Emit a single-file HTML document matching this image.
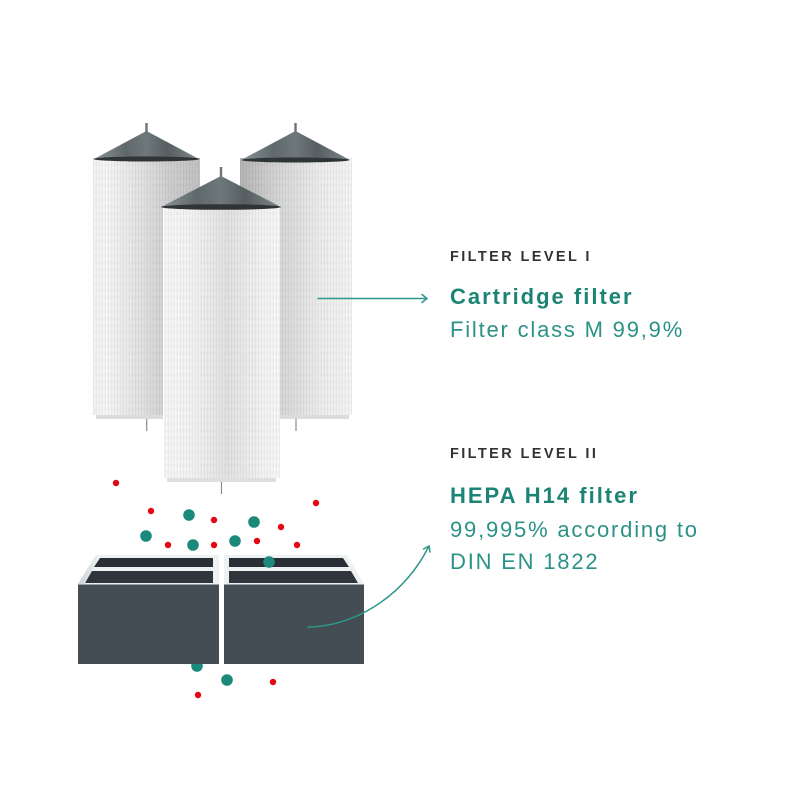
<!DOCTYPE html>
<html><head><meta charset="utf-8"><style>
html,body{margin:0;padding:0;background:#fff;}
svg{display:block;}
</style></head><body>
<svg width="800" height="800" viewBox="0 0 800 800" xmlns="http://www.w3.org/2000/svg">
<defs>
  <linearGradient id="gL" x1="0" x2="1" y1="0" y2="0">
    <stop offset="0" stop-color="#f2f2f2"/>
    <stop offset="0.12" stop-color="#f6f6f6"/>
    <stop offset="0.45" stop-color="#e2e2e2"/>
    <stop offset="0.7" stop-color="#cfcfcf"/>
    <stop offset="1" stop-color="#c2c2c2"/>
  </linearGradient>
  <linearGradient id="gR" x1="0" x2="1" y1="0" y2="0">
    <stop offset="0" stop-color="#b4b4b4"/>
    <stop offset="0.3" stop-color="#d2d2d2"/>
    <stop offset="0.7" stop-color="#ececec"/>
    <stop offset="1" stop-color="#f4f4f4"/>
  </linearGradient>
  <linearGradient id="gF" x1="0" x2="1" y1="0" y2="0">
    <stop offset="0" stop-color="#f7f7f7"/>
    <stop offset="0.25" stop-color="#f3f3f3"/>
    <stop offset="0.55" stop-color="#e2e2e2"/>
    <stop offset="0.85" stop-color="#f2f2f2"/>
    <stop offset="1" stop-color="#f8f8f8"/>
  </linearGradient>
  <linearGradient id="gCone" x1="0" x2="1" y1="0" y2="0">
    <stop offset="0" stop-color="#8a9496"/>
    <stop offset="0.3" stop-color="#5f686b"/>
    <stop offset="0.5" stop-color="#6e777a"/>
    <stop offset="0.7" stop-color="#565e61"/>
    <stop offset="1" stop-color="#7d878a"/>
  </linearGradient>
  <pattern id="tex" width="3" height="7" patternUnits="userSpaceOnUse">
    <rect x="0" y="0" width="1" height="7" fill="#000" opacity="0.05"/>
    <rect x="2" y="2" width="1" height="3" fill="#000" opacity="0.04"/>
  </pattern>
  <linearGradient id="gWall" x1="0" x2="1" y1="0" y2="0">
    <stop offset="0" stop-color="#c9d2d4"/>
    <stop offset="1" stop-color="#eef1f1"/>
  </linearGradient>
</defs>

<!-- Back-left cylinder -->
<rect x="93" y="158" width="107" height="257" fill="url(#gL)"/>
<rect x="93" y="158" width="107" height="257" fill="url(#tex)"/>
<rect x="96" y="415" width="101" height="4" fill="#dcdcdc"/>
<line x1="146.7" y1="419" x2="146.7" y2="431" stroke="#8a8a8a" stroke-width="1.2"/>
<polygon points="146.5,131 94,159 199,159" fill="url(#gCone)"/>
<ellipse cx="146.5" cy="159" rx="53" ry="2.5" fill="#2f3436"/>
<rect x="145.3" y="123" width="2.4" height="10" fill="#6d7476"/>

<!-- Back-right cylinder -->
<rect x="240" y="158" width="112" height="257" fill="url(#gR)"/>
<rect x="240" y="158" width="112" height="257" fill="url(#tex)"/>
<rect x="243" y="415" width="106" height="4" fill="#dcdcdc"/>
<line x1="296" y1="419" x2="296" y2="431" stroke="#8a8a8a" stroke-width="1.2"/>
<polygon points="295.5,131 241,160 350,160" fill="url(#gCone)"/>
<ellipse cx="295.5" cy="160" rx="54" ry="2.5" fill="#2f3436"/>
<rect x="294.3" y="123" width="2.4" height="10" fill="#6d7476"/>

<!-- Front cylinder -->
<rect x="163" y="205" width="117" height="273" fill="url(#gF)"/>
<rect x="163" y="205" width="117" height="273" fill="url(#tex)"/>
<line x1="163.5" y1="205" x2="163.5" y2="478" stroke="#ffffff" stroke-width="1"/>
<rect x="167" y="478" width="109" height="4" fill="#dedede"/>
<line x1="221.5" y1="482" x2="221.5" y2="494" stroke="#8a8a8a" stroke-width="1.2"/>
<polygon points="221,176 161,207 281,207" fill="url(#gCone)"/>
<ellipse cx="221" cy="207" rx="60" ry="2.8" fill="#2f3436"/>
<rect x="219.8" y="167" width="2.4" height="10" fill="#6d7476"/>

<!-- particles above -->
<g fill="#e30613">
  <circle cx="116" cy="483" r="3.2"/>
  <circle cx="151" cy="511" r="3.2"/>
  <circle cx="214" cy="520" r="3.2"/>
  <circle cx="316" cy="503" r="3.2"/>
  <circle cx="281" cy="527" r="3.2"/>
  <circle cx="168" cy="545" r="3.2"/>
  <circle cx="214" cy="545" r="3.2"/>
  <circle cx="257" cy="541" r="3.2"/>
  <circle cx="297" cy="545" r="3.2"/>
  <circle cx="273" cy="682" r="3.2"/>
  <circle cx="198" cy="695" r="3.2"/>
</g>
<g fill="#1b8a7a">
  <circle cx="189" cy="515" r="5.8"/>
  <circle cx="146" cy="536" r="5.8"/>
  <circle cx="193" cy="545" r="5.8"/>
  <circle cx="235" cy="541" r="5.8"/>
  <circle cx="254" cy="522" r="5.8"/>
  <circle cx="197" cy="666" r="5.8"/>
  <circle cx="227" cy="680" r="5.8"/>
</g>

<!-- HEPA boxes -->
<!-- left box -->
<polygon points="96,555 219,555 219,584 78,584" fill="#eef1f1"/>
<polygon points="96,555 100,557 84,584 78,584" fill="url(#gWall)"/>
<polygon points="100,558 213,558 213,567 94,567" fill="#2a2f35"/>
<polygon points="92,571 213,571 213,583 85,583" fill="#2f353b"/>
<rect x="78" y="584" width="141" height="80" fill="#444c54"/>
<line x1="78" y1="584.5" x2="219" y2="584.5" stroke="#9aa3a8" stroke-width="1"/>
<!-- right box -->
<polygon points="224,555 347,555 364,584 224,584" fill="#eef1f1"/>
<polygon points="229,558 343,558 349,567 229,567" fill="#2a2f35"/>
<polygon points="229,571 351,571 358,583 229,583" fill="#2f353b"/>
<rect x="224" y="584" width="140" height="80" fill="#444c54"/>
<line x1="224" y1="584.5" x2="364" y2="584.5" stroke="#9aa3a8" stroke-width="1"/>

<circle cx="269" cy="562" r="5.8" fill="#1b8a7a"/>

<!-- connectors -->
<g stroke="#2f978b" stroke-width="1.5" fill="none" stroke-linecap="round" stroke-linejoin="round">
  <line x1="318" y1="298.5" x2="427" y2="298.5"/>
  <polyline points="422,294.5 427,298.5 422,302.5"/>
  <path d="M308,627 C350,627 402,600 429,546"/>
  <polyline points="423.5,549 429,546 430,552"/>
</g>

<!-- text -->
<g font-family="'Liberation Sans', Arial, sans-serif">
  <text x="450" y="261" font-size="14.5" font-weight="bold" fill="#333333" letter-spacing="2.4">FILTER LEVEL I</text>
  <text x="450" y="304" font-size="22" font-weight="bold" fill="#1b8474" letter-spacing="2">Cartridge filter</text>
  <text x="450" y="337" font-size="22" fill="#2b9286" letter-spacing="1.8">Filter class M 99,9%</text>

  <text x="450" y="458" font-size="14.5" font-weight="bold" fill="#333333" letter-spacing="2.4">FILTER LEVEL II</text>
  <text x="450" y="503" font-size="22" font-weight="bold" fill="#1b8474" letter-spacing="2">HEPA H14 filter</text>
  <text x="450" y="537" font-size="22" fill="#2b9286" letter-spacing="1.8">99,995% according to</text>
  <text x="450" y="569" font-size="22" fill="#2b9286" letter-spacing="1.8">DIN EN 1822</text>
</g>
</svg>
</body></html>
